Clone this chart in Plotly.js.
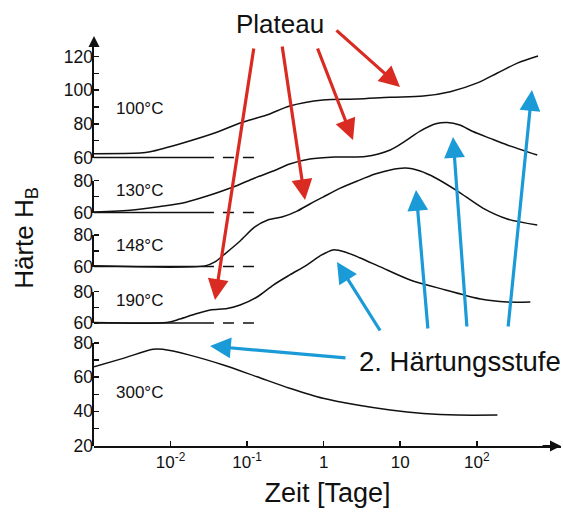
<!DOCTYPE html>
<html><head><meta charset="utf-8">
<script src="https://cdn.plot.ly/plotly-3.0.1.min.js"></script>
<style>html,body{margin:0;padding:0;background:#fff}#chart{width:563px;height:514px}</style>
</head><body><div id="chart"></div>
<script>
// ---------- data (time in days, hardness H_B) ----------
const xTickVals = [0.01, 0.1, 1, 10, 100];
const xTickText = ['10<sup>-2</sup>', '10<sup>-1</sup>', '1', '10', '10<sup>2</sup>'];
const panelLabels = ['100°C', '130°C', '148°C', '190°C', '300°C'];

const t100 = [0.001, 0.004, 0.0054, 0.0145, 0.041, 0.081, 0.18, 0.36, 0.98, 2.75, 7.4, 20, 45, 102, 186, 339, 631];
const h100 = [62.3, 62.7, 63.4, 68.6, 75.1, 80.5, 85.2, 90.6, 94.2, 94.7, 95.8, 96.5, 99.1, 104.3, 110.2, 116.1, 120.3];

const t130 = [0.001, 0.0032, 0.0073, 0.0155, 0.033, 0.066, 0.126, 0.22, 0.36, 0.66, 1.4, 3.5, 7.4, 11.7, 18.2, 30, 41, 60, 89, 150, 250, 616];
const h130 = [60.3, 61.6, 63.8, 66.3, 70.9, 75.9, 81.6, 85.9, 90.3, 93.4, 94.7, 95.0, 99.1, 104.7, 110.9, 115.6, 116.3, 114.7, 110.6, 106.3, 102.2, 95.9];

const t148 = [0.001, 0.0282, 0.038, 0.051, 0.081, 0.126, 0.186, 0.285, 0.45, 0.66, 0.98, 1.65, 2.75, 4.7, 7.4, 11.7, 18.2, 29, 56, 120, 250, 616];
const h148 = [60.4, 60.4, 62.9, 67.9, 76.2, 85.1, 89.5, 91.4, 95.2, 99.7, 104.1, 109.8, 114.3, 118.7, 121.3, 122.5, 120.6, 116.2, 107.9, 97.1, 90.2, 86.4];

const t190 = [0.001, 0.0089, 0.0132, 0.021, 0.033, 0.055, 0.081, 0.135, 0.22, 0.36, 0.60, 0.89, 1.32, 1.9, 3.0, 5.5, 13.5, 39, 112, 250, 500];
const h190 = [60.3, 60.3, 62.5, 65.7, 68.3, 69.2, 71.4, 76.5, 84.1, 90.5, 96.8, 102.5, 106.4, 105.1, 101.3, 95.6, 87.3, 81.0, 75.2, 73.3, 73.3];

const t300 = [0.001, 0.0024, 0.0059, 0.0079, 0.0178, 0.049, 0.135, 0.36, 0.98, 2.75, 7.4, 20, 56, 186];
const h300 = [66.1, 71.0, 76.3, 76.3, 72.9, 67.1, 60.2, 53.5, 47.6, 43.7, 40.8, 38.8, 37.8, 37.8];

const baseSolidT = [0.001, 0.0265];
const baseDashT = [0.0265, 0.135];
const baseH = [60, 60];

// ---------- layout geometry ----------
const W = 563, H = 514, ML = 94, MR = 2, MT = 30, MB = 68;
const PW = W - ML - MR, PH = H - MT - MB;
const XR = [-3, 3.1];
const px = x => (x - ML) / PW;
const py = y => (H - MB - y) / PH;
// each panel axis: two (value, pixel) anchors -> range over the full plot height
function rng(v1, p1, v2, p2) {
  const s = (v2 - v1) / (p1 - p2);
  return [v1 - s * (H - MB - p1), v1 + s * (p1 - MT)];
}
const font = 'Liberation Sans, Arial, Helvetica, sans-serif';
const black = '#111';

const curveLine = {color: black, width: 1.5, shape: 'spline', smoothing: 0.8};
function curve(t, h, ax) { return {x: t, y: h, yaxis: ax, type: 'scatter', mode: 'lines', line: curveLine, hoverinfo: 'skip'}; }
function base(ax) {
  return [
    {x: baseSolidT, y: baseH, yaxis: ax, mode: 'lines', line: {color: black, width: 1.6}, hoverinfo: 'skip'},
    {x: baseDashT, y: baseH, yaxis: ax, mode: 'lines', line: {color: black, width: 1.5, dash: '11px,9px'}, hoverinfo: 'skip'}
  ];
}
// empty traces that only bring in the short left axis segments of every panel
const segAxes = ['y6', 'y7', 'y8', 'y9', 'y10'];
const segTraces = segAxes.map(a => ({x: [], y: [], yaxis: a, mode: 'lines', hoverinfo: 'skip'}));

const data = [
  ...segTraces,
  ...base('y5'), curve(t100, h100, 'y5'),
  ...base('y4'), curve(t130, h130, 'y4'),
  ...base('y3'), curve(t148, h148, 'y3'),
  ...base('y2'), curve(t190, h190, 'y2'),
  curve(t300, h300, 'y')
];

function yax(r, tv, minorVals, extra) {
  return Object.assign({
    range: r, tickvals: tv, ticktext: tv.map(String), ticks: 'inside', ticklen: 5, tickwidth: 1.5, tickcolor: black,
    minor: {tickmode: 'array', tickvals: minorVals, ticks: 'inside', ticklen: 5, tickwidth: 1.5, tickcolor: black, showgrid: false},
    showline: false, showgrid: false, zeroline: false, fixedrange: true,
    tickfont: {family: font, size: 17.5, color: black}
  }, extra || {});
}
const ov = {overlaying: 'y', side: 'left', anchor: 'x'};
function segAx(top, bottom) {
  return {domain: [py(bottom), py(top)], anchor: 'x', side: 'left', range: [0, 1], showline: true, linewidth: 2, linecolor: black,
    ticks: '', showticklabels: false, showgrid: false, zeroline: false, fixedrange: true};
}

const layout = {
  width: W, height: H,
  margin: {l: ML, r: MR, t: MT, b: MB, pad: 0},
  paper_bgcolor: '#fff', plot_bgcolor: 'rgba(0,0,0,0)',
  showlegend: false, hovermode: false,
  xaxis: {
    type: 'log', range: XR, tickvals: xTickVals, ticktext: xTickText,
    ticks: 'inside', ticklen: 5, tickwidth: 1.5, tickcolor: black,
    showline: true, linewidth: 2, linecolor: black, showgrid: false, zeroline: false,
    tickfont: {family: font, size: 17, color: black},
    title: {text: 'Zeit [Tage]', font: {family: font, size: 27, color: black}, standoff: 12}
  },
  yaxis: yax(rng(20, 445.5, 80, 343), [20, 40, 60, 80], [30, 50, 70],
    {title: {text: 'Härte H<sub>B</sub>', font: {family: font, size: 26, color: black}, standoff: 32}}),
  yaxis2: yax(rng(60, 323, 80, 291.5), [60, 80], [70], ov),
  yaxis3: yax(rng(60, 266.5, 80, 235), [60, 80], [70], ov),
  yaxis4: yax(rng(60, 212.5, 80, 180.5), [60, 80], [70], ov),
  yaxis5: yax(rng(60, 157.5, 120, 56.5), [60, 80, 100, 120], [70, 90, 110], ov),
  yaxis6: segAx(343, 446),
  yaxis7: segAx(291.5, 323),
  yaxis8: segAx(235, 266.5),
  yaxis9: segAx(180.5, 212.5),
  yaxis10: segAx(42, 157.5),
  annotations: []
};

// arrowheads of the y axis (top) and the x axis (right)
layout.annotations.push({xref: 'paper', x: 0, yref: 'paper', y: py(36), ax: 0, ay: 10, text: '',
  showarrow: true, arrowhead: 2, arrowsize: 1.1, arrowwidth: 2, arrowcolor: black});
layout.annotations.push({xref: 'paper', x: 1, yref: 'paper', y: 0, ax: -20, ay: 0, text: '',
  showarrow: true, arrowhead: 2, arrowsize: 1.1, arrowwidth: 2, arrowcolor: black});

// panel labels
const labelY = [108, 190, 246, 300, 392];
panelLabels.forEach((s, i) => layout.annotations.push({
  xref: 'paper', yref: 'paper', x: px(114), y: py(labelY[i]), xanchor: 'left', yanchor: 'middle',
  text: s, showarrow: false, font: {family: font, size: 17, color: black}
}));

// callout texts
layout.annotations.push({xref: 'paper', yref: 'paper', x: px(280), y: py(24), xanchor: 'center', yanchor: 'middle',
  text: 'Plateau', showarrow: false, font: {family: font, size: 26, color: black}});
layout.annotations.push({xref: 'paper', yref: 'paper', x: px(460), y: py(361), xanchor: 'center', yanchor: 'middle',
  text: '2. Härtungsstufe', showarrow: false, font: {family: font, size: 27.5, color: black}});

// callout arrows: [headX, headY, tailX, tailY] in pixels
const redArrows = [[400, 87, 335, 29], [353, 140, 317, 47], [305, 200, 282, 45], [215, 300, 254, 47]];
const blueArrows = [[210, 346, 347, 358], [337, 262, 381, 332], [416, 190, 428, 330], [453, 137, 467, 328], [532, 90, 508, 328]];
function arrow(a, col) {
  return {xref: 'paper', yref: 'paper', x: px(a[0]), y: py(a[1]), ax: a[2] - a[0], ay: a[3] - a[1], text: '',
    showarrow: true, arrowhead: 2, arrowsize: 1.3, arrowwidth: 3.2, arrowcolor: col};
}
redArrows.forEach(a => layout.annotations.push(arrow(a, '#d92b21')));
blueArrows.forEach(a => layout.annotations.push(arrow(a, '#1b9ad8')));

Plotly.newPlot('chart', data, layout, {staticPlot: true, displayModeBar: false});
</script>
</body></html>
